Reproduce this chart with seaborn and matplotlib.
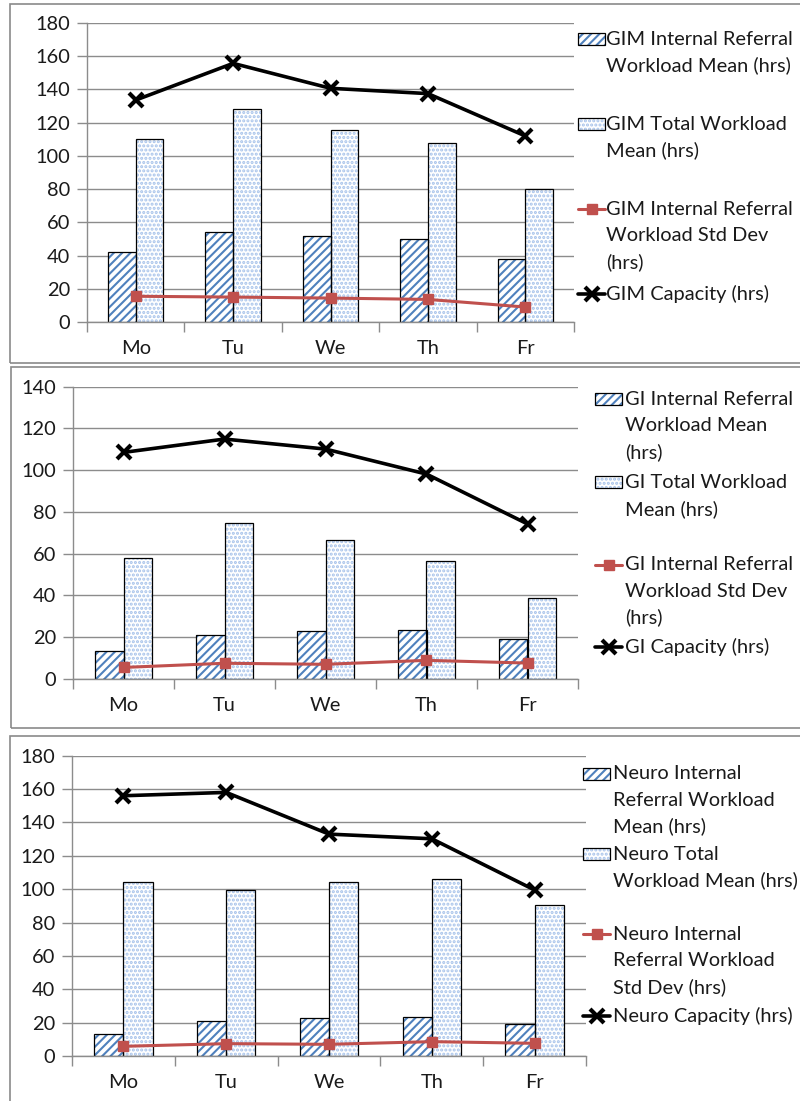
import matplotlib
matplotlib.use('Agg')
import matplotlib.pyplot as plt
import seaborn as sns
import numpy as np
import pandas as pd
from matplotlib.patches import Rectangle
from matplotlib.lines import Line2D

days = ['Mo', 'Tu', 'We', 'Th', 'Fr']

gim_internal_mean = [41.9, 54.0, 51.6, 50.0, 38.1]
gim_total_mean = [110.2, 128.0, 115.6, 107.6, 80.3]
gim_internal_std = [15.5, 15.0, 14.4, 13.6, 9.0]
gim_capacity = [133.6, 155.7, 140.7, 137.5, 112.0]

gi_internal_mean = [13.1, 20.8, 22.9, 23.2, 18.9]
gi_total_mean = [57.7, 74.8, 66.5, 56.6, 38.5]
gi_internal_std = [5.4, 7.4, 6.9, 8.8, 7.5]
gi_capacity = [108.5, 114.9, 110.1, 98.1, 74.2]

neuro_internal_mean = [13.0, 20.8, 22.6, 23.4, 19.0]
neuro_total_mean = [104.3, 99.3, 104.3, 106.1, 90.3]
neuro_internal_std = [5.8, 7.4, 7.0, 8.6, 7.6]
neuro_capacity = [156.0, 158.0, 133.0, 130.2, 99.5]

W, H = 800, 1101
STRIPE = '#4f81bd'
DOTS = '#a6c2ea'
RED = '#c0504d'
GRID = '#8c8c8c'
FONT = 'Lato'
FS = 14.4

sns.set_theme(style='white')
plt.rcParams['font.family'] = [FONT, 'DejaVu Sans']
plt.rcParams['hatch.linewidth'] = 1.5

fig = plt.figure(figsize=(W / 100, H / 100), dpi=100)


def fx(px):
    return px / W


def fy(py):
    return 1 - py / H


def style_bar(ax, p, kind):
    # hatch in colour, black outline drawn on top
    if kind == 0:
        p.set_hatch('////')
        p.set_edgecolor(STRIPE)
    else:
        p.set_hatch('....')
        p.set_edgecolor(DOTS)
    p.set_facecolor('white')
    p.set_linewidth(0)
    ax.add_patch(Rectangle(p.get_xy(), p.get_width(), p.get_height(),
                           fill=False, edgecolor='black', lw=0.9, zorder=p.get_zorder() + 0.1))


def draw_panel(box, plot, ymax, values, legend, leg_pos):
    bx0, by0, by1 = box
    fig.patches.append(Rectangle((fx(bx0), fy(by1)), 1.0, fy(by0) - fy(by1),
                                 transform=fig.transFigure, fill=False,
                                 edgecolor='#8a8a8a', lw=1.2))

    left, right, top, bottom = plot
    ax = fig.add_axes([fx(left), fy(bottom), fx(right - left), fy(top) - fy(bottom)])

    internal_mean, total_mean, internal_std, capacity = values
    df = pd.DataFrame({
        'day': days * 2,
        'value': list(internal_mean) + list(total_mean),
        'series': ['internal'] * 5 + ['total'] * 5,
    })
    sns.barplot(data=df, x='day', y='value', hue='series', order=days,
                hue_order=['internal', 'total'], width=0.57, ax=ax,
                legend=False, zorder=2)
    bars = list(ax.patches)
    for i, p in enumerate(bars):
        style_bar(ax, p, 0 if i < 5 else 1)

    xs = np.arange(len(days))
    ax.plot(xs, internal_std, color=RED, lw=2.2, marker='s', ms=7,
            mec=RED, mfc=RED, zorder=4)
    ax.plot(xs, capacity, color='black', lw=2.6, marker='x', ms=10,
            mew=3, zorder=5)

    ax.set_xlim(-0.5, 4.5)
    ax.set_ylim(0, ymax)
    ax.set_yticks(np.arange(0, ymax + 1, 20))
    ax.set_xticks(np.arange(-0.5, 5, 1), minor=True)
    ax.set_xticks(xs)
    ax.set_xticklabels(days)
    ax.yaxis.grid(True, color=GRID, lw=1)
    ax.set_axisbelow(True)
    ax.set_xlabel('')
    ax.set_ylabel('')
    for s in ['top', 'right']:
        ax.spines[s].set_visible(False)
    for s in ['left', 'bottom']:
        ax.spines[s].set_color(GRID)
        ax.spines[s].set_linewidth(1)
    ax.tick_params(axis='y', length=7, color=GRID, width=1, labelsize=FS,
                   pad=5, labelcolor='#1a1a1a', left=True)
    ax.tick_params(axis='x', which='major', length=0, labelsize=FS, pad=13,
                   labelcolor='#1a1a1a')
    ax.tick_params(axis='x', which='minor', length=7, color=GRID, width=1,
                   bottom=True)

    # legend, drawn entry by entry so the key sits on the first text line
    hx, tx, rows = leg_pos
    for k, (lines, ys) in enumerate(zip(legend, rows)):
        y0 = ys[0]
        if k < 2:
            r = Rectangle((fx(hx), fy(y0 + 6)), fx(27), fy(y0 - 6) - fy(y0 + 6),
                          transform=fig.transFigure, facecolor='white',
                          edgecolor=STRIPE if k == 0 else DOTS,
                          hatch='////' if k == 0 else '....', lw=0)
            fig.patches.append(r)
            fig.patches.append(Rectangle((fx(hx), fy(y0 + 6)), fx(27),
                                         fy(y0 - 6) - fy(y0 + 6),
                                         transform=fig.transFigure, fill=False,
                                         edgecolor='black', lw=0.9))
        elif k == 2:
            fig.add_artist(Line2D([fx(hx), fx(hx + 27)], [fy(y0), fy(y0)],
                                  color=RED, lw=2.2))
            fig.add_artist(Line2D([fx(hx + 13.5)], [fy(y0)], color=RED,
                                  marker='s', ms=7))
        else:
            fig.add_artist(Line2D([fx(hx), fx(hx + 27)], [fy(y0), fy(y0)],
                                  color='black', lw=2.6))
            fig.add_artist(Line2D([fx(hx + 13.5)], [fy(y0)], color='black',
                                  marker='x', ms=10, mew=3))
        for line, y in zip(lines, ys):
            fig.text(fx(tx), fy(y), line, fontsize=FS, va='center', ha='left',
                     color='#1a1a1a')
    return ax


panels = [
    dict(box=(10, 4, 363), plot=(87, 574, 23, 322), ymax=180,
         values=(gim_internal_mean, gim_total_mean, gim_internal_std, gim_capacity),
         legend=[['GIM Internal Referral', 'Workload Mean (hrs)'],
                 ['GIM Total Workload', 'Mean (hrs)'],
                 ['GIM Internal Referral', 'Workload Std Dev', '(hrs)'],
                 ['GIM Capacity (hrs)']],
         leg_pos=(578, 606, [[39.3, 65.7], [124.3, 150.7],
                             [209.3, 235.7, 262.3], [294.3]])),
    dict(box=(11, 367, 728), plot=(73, 578, 386.7, 678.7), ymax=140,
         values=(gi_internal_mean, gi_total_mean, gi_internal_std, gi_capacity),
         legend=[['GI Internal Referral', 'Workload Mean', '(hrs)'],
                 ['GI Total Workload', 'Mean (hrs)'],
                 ['GI Internal Referral', 'Workload Std Dev', '(hrs)'],
                 ['GI Capacity (hrs)']],
         leg_pos=(595, 625, [[399.3, 426, 452.3], [482.3, 509],
                             [565, 591.7, 617.7], [646.7]])),
    dict(box=(10, 736, 1110), plot=(72, 586, 755.7, 1056), ymax=180,
         values=(neuro_internal_mean, neuro_total_mean, neuro_internal_std, neuro_capacity),
         legend=[['Neuro Internal', 'Referral Workload', 'Mean (hrs)'],
                 ['Neuro Total', 'Workload Mean (hrs)'],
                 ['Neuro Internal', 'Referral Workload', 'Std Dev (hrs)'],
                 ['Neuro Capacity (hrs)']],
         leg_pos=(583, 613, [[773.7, 800, 826.7], [854, 880.7],
                             [934.3, 961, 987.7], [1015.7]])),
]

for cfg in panels:
    draw_panel(**cfg)

fig.savefig('out.png', dpi=100)
